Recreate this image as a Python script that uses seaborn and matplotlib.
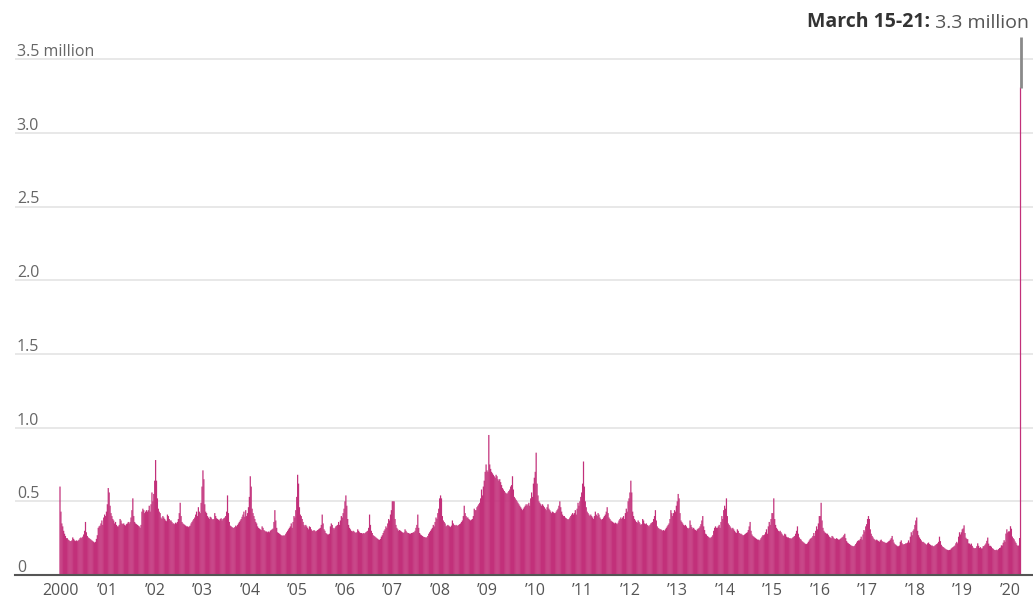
import numpy as np
import pandas as pd
import seaborn as sns
import matplotlib.pyplot as plt
import matplotlib.dates as mdates

# weekly initial jobless claims, thousands (weeks ending Saturday, from 2000-01-01)
claims_2000 = [600, 430, 350, 330, 300, 280, 265, 250, 250, 240,
               235, 230, 230, 235, 255, 245, 235, 230, 235, 230,
               235, 240, 250, 255, 250, 260, 275, 300, 360, 290,
               265, 255, 250, 245, 240, 235, 230, 225, 220, 225,
               245, 270, 320, 330, 335, 350, 370, 340, 390, 410,
               400, 430, 480]
claims_2001 = [590, 560, 470, 420, 400, 380, 370, 350, 360, 340,
               330, 330, 340, 380, 370, 350, 345, 350, 340, 335,
               345, 350, 360, 350, 360, 390, 440, 520, 400, 360,
               350, 345, 340, 335, 330, 320, 340, 430, 450, 440,
               420, 430, 440, 430, 440, 470, 430, 480, 560, 500,
               550, 640]
claims_2002 = [780, 640, 520, 450, 430, 420, 390, 380, 400, 390,
               380, 370, 365, 410, 400, 380, 370, 370, 360, 350,
               350, 345, 355, 350, 360, 380, 420, 490, 400, 360,
               350, 345, 340, 335, 330, 330, 325, 330, 335, 350,
               360, 370, 380, 390, 410, 430, 400, 460, 430, 420,
               490, 600]
claims_2003 = [710, 650, 480, 430, 420, 400, 390, 380, 395, 390,
               380, 375, 380, 420, 400, 385, 380, 375, 370, 380,
               385, 370, 380, 385, 390, 400, 430, 540, 420, 360,
               335, 330, 325, 320, 320, 325, 335, 330, 340, 350,
               360, 370, 380, 395, 410, 430, 395, 440, 400, 420,
               460, 530]
claims_2004 = [670, 600, 450, 420, 400, 380, 360, 350, 330, 320,
               315, 310, 305, 330, 320, 305, 300, 295, 295, 290,
               295, 290, 300, 305, 310, 315, 360, 440, 370, 320,
               290, 285, 280, 275, 270, 265, 270, 265, 270, 280,
               290, 300, 310, 320, 330, 350, 320, 360, 400, 390,
               440, 530]
claims_2005 = [680, 620, 460, 410, 400, 380, 360, 340, 330, 340,
               330, 320, 310, 330, 325, 310, 300, 300, 305, 300,
               295, 300, 305, 310, 315, 320, 340, 410, 350, 310,
               300, 285, 280, 275, 275, 280, 330, 350, 340, 320,
               310, 320, 330, 335, 340, 360, 340, 370, 400, 390,
               420, 450, 500]
claims_2006 = [540, 470, 380, 340, 320, 310, 300, 295, 300, 295,
               290, 285, 290, 310, 300, 290, 285, 285, 280, 285,
               280, 285, 290, 295, 300, 320, 410, 340, 300, 285,
               270, 265, 260, 255, 250, 245, 240, 238, 245, 260,
               270, 285, 300, 310, 330, 320, 350, 380, 370, 410,
               440, 500]
claims_2007 = [500, 500, 380, 340, 320, 310, 300, 305, 300, 295,
               290, 285, 290, 310, 300, 290, 285, 285, 280, 280,
               285, 285, 290, 290, 300, 320, 340, 410, 320, 285,
               275, 270, 265, 260, 258, 255, 255, 255, 265, 280,
               290, 300, 310, 320, 340, 330, 360, 390, 380, 420,
               450, 520]
claims_2008 = [540, 520, 400, 370, 360, 350, 330, 335, 340, 335,
               330, 325, 335, 370, 350, 340, 335, 340, 335, 335,
               340, 345, 350, 360, 370, 400, 470, 420, 400, 390,
               390, 380, 375, 370, 375, 380, 400, 450, 440, 440,
               460, 470, 480, 490, 520, 580, 540, 600, 640, 700,
               750, 710]
claims_2009 = [700, 950, 750, 720, 700, 690, 680, 670, 660, 680,
               670, 650, 640, 650, 630, 610, 590, 580, 570, 560,
               555, 550, 560, 570, 580, 600, 610, 670, 580, 530,
               520, 510, 500, 490, 480, 470, 460, 450, 440, 450,
               460, 470, 480, 470, 480, 490, 470, 520, 560, 530,
               620, 660]
claims_2010 = [700, 830, 620, 540, 500, 490, 480, 470, 480, 470,
               460, 450, 440, 460, 480, 450, 440, 430, 420, 430,
               425, 420, 420, 430, 440, 450, 470, 500, 460, 430,
               410, 400, 400, 390, 385, 380, 375, 380, 390, 400,
               410, 420, 410, 420, 440, 410, 450, 490, 470, 500,
               530, 560]
claims_2011 = [620, 770, 600, 500, 460, 430, 420, 410, 400, 410,
               400, 390, 380, 400, 430, 410, 400, 420, 410, 390,
               380, 375, 380, 390, 400, 410, 430, 460, 420, 390,
               380, 370, 365, 360, 355, 350, 355, 350, 345, 355,
               370, 380, 390, 380, 390, 400, 380, 420, 450, 430,
               500, 520, 560]
claims_2012 = [640, 560, 430, 400, 380, 370, 360, 355, 370, 360,
               350, 340, 345, 380, 370, 350, 345, 350, 340, 335,
               330, 340, 350, 355, 360, 380, 400, 440, 370, 330,
               320, 315, 310, 310, 305, 300, 305, 300, 310, 320,
               330, 340, 350, 380, 440, 420, 400, 420, 440, 430,
               470, 500]
claims_2013 = [550, 520, 420, 370, 360, 350, 340, 335, 340, 330,
               320, 315, 320, 370, 340, 325, 315, 320, 310, 305,
               300, 310, 315, 320, 330, 345, 370, 400, 330, 305,
               280, 275, 265, 260, 255, 250, 255, 260, 270, 300,
               320, 330, 320, 320, 330, 340, 320, 360, 400, 380,
               440, 470]
claims_2014 = [450, 520, 400, 350, 340, 330, 320, 310, 320, 310,
               300, 290, 285, 310, 300, 285, 280, 280, 275, 270,
               270, 275, 280, 285, 290, 305, 330, 360, 300, 275,
               265, 260, 255, 250, 245, 240, 240, 235, 240, 250,
               260, 270, 270, 275, 290, 310, 280, 330, 360, 340,
               380, 420]
claims_2015 = [420, 520, 380, 340, 320, 310, 300, 295, 300, 290,
               280, 270, 265, 280, 275, 260, 255, 255, 250, 250,
               245, 250, 255, 260, 265, 280, 300, 330, 280, 255,
               245, 240, 230, 225, 220, 215, 210, 210, 215, 225,
               235, 245, 250, 255, 265, 285, 265, 300, 330, 310,
               350, 400]
claims_2016 = [400, 490, 370, 320, 300, 290, 285, 280, 280, 270,
               260, 255, 250, 265, 260, 250, 245, 245, 250, 245,
               240, 240, 245, 250, 255, 260, 270, 280, 250, 230,
               220, 215, 210, 205, 200, 198, 195, 195, 200, 210,
               220, 230, 235, 235, 245, 260, 240, 275, 305, 295,
               330, 345, 380]
claims_2017 = [400, 380, 310, 280, 265, 255, 245, 240, 235, 240,
               235, 230, 225, 235, 240, 230, 225, 225, 220, 218,
               218, 222, 228, 232, 240, 250, 265, 240, 220, 210,
               205, 200, 195, 195, 200, 225, 235, 215, 205, 210,
               210, 215, 215, 220, 235, 220, 260, 290, 270, 300,
               310, 340]
claims_2018 = [370, 390, 300, 270, 255, 245, 235, 225, 225, 220,
               215, 210, 205, 215, 220, 210, 205, 200, 200, 195,
               195, 200, 205, 210, 215, 225, 260, 230, 205, 195,
               190, 185, 180, 175, 172, 170, 168, 170, 172, 180,
               185, 190, 195, 200, 215, 225, 215, 260, 290, 275,
               290, 310]
claims_2019 = [316, 337, 285, 253, 245, 243, 215, 213, 206, 213,
               198, 186, 182, 181, 183, 195, 215, 198, 183, 189,
               180, 181, 195, 196, 205, 214, 232, 254, 213, 198,
               198, 192, 182, 178, 171, 170, 168, 172, 168, 176,
               183, 186, 201, 200, 219, 236, 225, 281, 310, 289,
               296, 296]
claims_2020 = [331, 314, 261, 250, 242, 228, 218, 205, 197, 200,
               251, 3307]

year_labels = ["2000"] + [f"\u2019{y % 100:02d}" for y in range(2001, 2021)]
y_ticks = [0, 0.5, 1.0, 1.5, 2.0, 2.5, 3.0, 3.5]
y_labels = ["0", "0.5", "1.0", "1.5", "2.0", "2.5", "3.0", "3.5 million"]

BAR = "#c2307a"

yearly = [claims_2000, claims_2001, claims_2002, claims_2003, claims_2004,
          claims_2005, claims_2006, claims_2007, claims_2008, claims_2009,
          claims_2010, claims_2011, claims_2012, claims_2013, claims_2014,
          claims_2015, claims_2016, claims_2017, claims_2018, claims_2019,
          claims_2020]
claims = [v for year in yearly for v in year]
weeks = pd.date_range("2000-01-01", periods=len(claims), freq="W-SAT")

df = pd.DataFrame({"week": mdates.date2num(weeks),
                   "claims": np.array(claims) / 1000.0})

sns.set_style("white")
plt.rcParams["font.family"] = ["Open Sans", "DejaVu Sans"]

fig = plt.figure(figsize=(10.33, 6.05), dpi=100)
ax = fig.add_axes([15 / 1033, 30 / 605, 1018 / 1033, 538 / 605])

# slight overlap so the sub-pixel bars read as a solid fill
sns.barplot(data=df, x="week", y="claims", native_scale=True, color=BAR,
            saturation=1, width=1.35, linewidth=0, errorbar=None, ax=ax)
# bars are narrower than a pixel: don't let them snap away
for p in ax.patches:
    p.set_snap(False)

ax.set_xlim(mdates.date2num(pd.Timestamp("1999-01-20")),
            mdates.date2num(pd.Timestamp("2020-06-25")))
ax.set_ylim(0, 3.65)
ax.set_xlabel("")
ax.set_ylabel("")

# gridlines + labels sitting on top of them
ax.set_yticks(y_ticks)
ax.set_yticklabels([])
ax.tick_params(axis="y", length=0)
ax.yaxis.grid(True, color="#e6e6e6", lw=1.3)
ax.set_axisbelow(True)
for v, lab in zip(y_ticks, y_labels):
    ax.annotate(lab, xy=(0, v), xycoords=("axes fraction", "data"),
                xytext=(1.3, 2.2), textcoords="offset points",
                ha="left", va="baseline", fontsize=11.5, color="#666666")

year_pos = mdates.date2num(pd.date_range("2000-01-01", "2020-01-01", freq="YS"))
ax.set_xticks(year_pos)
ax.set_xticklabels(year_labels)
ax.tick_params(axis="x", direction="out", length=4, width=1.2, color="#555555",
               labelsize=11.5, labelcolor="#555555", pad=2)

for side in ["top", "left", "right"]:
    ax.spines[side].set_visible(False)
ax.spines["bottom"].set_color("#555555")
ax.spines["bottom"].set_linewidth(1.5)

# callout for the latest week
last = df.iloc[-1]
ax.vlines(last["week"], last["claims"], 3.65, color="#8a8a8a", lw=2, zorder=3)
val = fig.text(1029 / 1033, 1 - 28 / 605, " 3.3 million", ha="right", va="baseline",
               fontsize=14, color="#555555")
ax.annotate("March 15-21:", xy=(0, 0), xycoords=val, ha="right", va="bottom",
            fontsize=14, fontweight="bold", color="#333333", annotation_clip=False)

fig.savefig("out.png", dpi=100)
